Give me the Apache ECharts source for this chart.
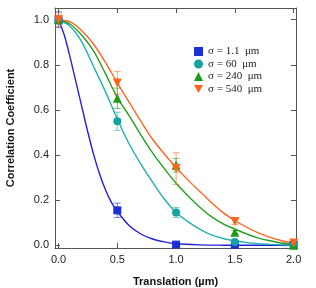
<!DOCTYPE html>
<html><head><meta charset="utf-8">
<script src="https://cdn.jsdelivr.net/npm/echarts@6/dist/echarts.min.js"></script>
<style>html,body{margin:0;padding:0;background:#fff}#c{width:316px;height:288px}</style>
</head><body><div id="c"></div>
<script>
// Measured points
var pointX = [0, 0.5, 1.0, 1.5, 2.0];
var pts11 = [1.0, 0.155, 0.003, 0.002, 0.002];
var err11 = [0.035, 0.032, 0.004, 0.004, 0.004];
var pts60 = [1.0, 0.55, 0.145, 0.015, 0.0];
var err60 = [0.02, 0.04, 0.022, 0.008, 0.004];
var pts240 = [1.0, 0.652, 0.355, 0.058, 0.0];
var err240 = [0.015, 0.045, 0.03, 0.008, 0.004];
var pts540 = [1.0, 0.72, 0.34, 0.105, 0.01];
var err540 = [0.03, 0.05, 0.07, 0.012, 0.005];

// Fit curves
var fitX11 = [0, 0.05, 0.1, 0.15, 0.2, 0.25, 0.3, 0.35, 0.4, 0.45, 0.5, 0.6, 0.7, 0.8, 0.9, 1.0, 1.2, 1.4, 1.6, 1.8, 2.0];
var fit11 = [1.0, 0.93, 0.83, 0.72, 0.61, 0.50, 0.40, 0.315, 0.245, 0.19, 0.15, 0.088, 0.05, 0.028, 0.015, 0.007, 0.002, 0.0005, 0, 0, 0];
var fitX = [0, 0.1, 0.2, 0.3, 0.4, 0.5, 0.6, 0.7, 0.8, 0.9, 1.0, 1.1, 1.2, 1.3, 1.4, 1.5, 1.6, 1.7, 1.8, 1.9, 2.0];
var fit60 = [1.0, 0.97, 0.9, 0.79, 0.68, 0.56, 0.45, 0.36, 0.28, 0.205, 0.145, 0.105, 0.072, 0.046, 0.03, 0.02, 0.012, 0.007, 0.004, 0.002, 0.001];
var fit240 = [1.0, 0.98, 0.93, 0.86, 0.76, 0.655, 0.575, 0.49, 0.41, 0.34, 0.275, 0.22, 0.17, 0.127, 0.095, 0.072, 0.05, 0.032, 0.02, 0.01, 0.004];
var fit540 = [1.0, 0.99, 0.95, 0.89, 0.81, 0.72, 0.635, 0.55, 0.47, 0.405, 0.345, 0.29, 0.24, 0.19, 0.145, 0.11, 0.08, 0.055, 0.035, 0.02, 0.01];

var names = ['σ = 1.1  μm', 'σ = 60  μm', 'σ = 240  μm', 'σ = 540  μm'];
var xTicks = [0, 0.5, 1.0, 1.5, 2.0];
var yTicks = [0, 0.2, 0.4, 0.6, 0.8, 1.0];

var colors = ['#1a2fd6', '#17a2a2', '#1c9a1c', '#ff661a'];
var lineColors = ['#2222dd', '#22b0b0', '#22a022', '#ff6622'];
var symbols = ['rect', 'circle', 'triangle', 'path://M0,0L10,0L5,9Z'];
var sizes = [8, 8, 9, 9];

function pairs(xs, ys) { return xs.map(function (x, i) { return [x, ys[i]]; }); }
function errData(ys, es) { return pointX.map(function (x, i) { return [x, ys[i] - es[i], ys[i] + es[i]]; }); }

var pts = [pts11, pts60, pts240, pts540];
var errs = [err11, err60, err240, err540];
var fits = [pairs(fitX11, fit11), pairs(fitX, fit60), pairs(fitX, fit240), pairs(fitX, fit540)];

var series = [];
for (var k = 0; k < 4; k++) {
  series.push({
    type: 'line', data: fits[k], smooth: 0.3, showSymbol: false, silent: true,
    lineStyle: { color: lineColors[k], width: 1.4 }, z: 2
  });
}
for (var k = 0; k < 4; k++) {
  (function (k) {
    series.push({
      type: 'custom', data: errData(pts[k], errs[k]), z: 3, silent: true,
      renderItem: function (params, api) {
        var x = api.value(0);
        var lo = api.coord([x, api.value(1)]);
        var hi = api.coord([x, api.value(2)]);
        var w = 3.5;
        var st = { stroke: colors[k], lineWidth: 1, opacity: 0.6 };
        return { type: 'group', children: [
          { type: 'line', shape: { x1: lo[0], y1: lo[1], x2: hi[0], y2: hi[1] }, style: st },
          { type: 'line', shape: { x1: lo[0] - w, y1: lo[1], x2: lo[0] + w, y2: lo[1] }, style: st },
          { type: 'line', shape: { x1: hi[0] - w, y1: hi[1], x2: hi[0] + w, y2: hi[1] }, style: st }
        ] };
      }
    });
  })(k);
}
for (var k = 0; k < 4; k++) {
  series.push({
    name: names[k], type: 'scatter', data: pairs(pointX, pts[k]), symbol: symbols[k],
    symbolSize: sizes[k], itemStyle: { color: colors[k], opacity: 1 }, z: 4
  });
}

var axisLineStyle = { color: '#555', width: 1 };
var chart = echarts.init(document.getElementById('c'), null, { renderer: 'canvas' });
chart.setOption({
  animation: false,
  grid: { left: 55, right: 20, top: 8, bottom: 40, containLabel: false, outerBoundsMode: 'none' },
  legend: {
    orient: 'vertical', left: 189, top: 41, itemWidth: 9, itemHeight: 9, itemGap: 1.5,
    data: names, selectedMode: false,
    textStyle: { fontFamily: 'Liberation Serif', fontSize: 11, color: '#222' }
  },
  xAxis: [{
    type: 'value', min: -0.03, max: 2.02, position: 'bottom',
    name: 'Translation (µm)', nameLocation: 'middle', nameGap: 28,
    nameTextStyle: { fontFamily: 'Liberation Sans', fontWeight: 'bold', fontSize: 11, color: '#111' },
    axisLine: { onZero: false, lineStyle: axisLineStyle },
    axisTick: { inside: true, length: 5, customValues: xTicks, lineStyle: axisLineStyle },
    axisLabel: { customValues: xTicks, margin: 6, fontFamily: 'Liberation Sans', fontSize: 11, color: '#222',
      formatter: function (v) { return v.toFixed(1); } },
    splitLine: { show: false }
  }, {
    type: 'value', min: -0.03, max: 2.02, position: 'top',
    axisLine: { onZero: false, lineStyle: axisLineStyle },
    axisTick: { inside: true, length: 5, customValues: xTicks, lineStyle: axisLineStyle },
    axisLabel: { show: false }, splitLine: { show: false }
  }],
  yAxis: [{
    type: 'value', min: -0.012, max: 1.052, position: 'left',
    name: 'Correlation Coefficient', nameLocation: 'middle', nameGap: 39,
    nameTextStyle: { fontFamily: 'Liberation Sans', fontWeight: 'bold', fontSize: 11, color: '#111' },
    axisLine: { onZero: false, lineStyle: axisLineStyle },
    axisTick: { inside: true, length: 5, customValues: yTicks, lineStyle: axisLineStyle },
    axisLabel: { customValues: yTicks, margin: 6, fontFamily: 'Liberation Sans', fontSize: 11, color: '#222',
      formatter: function (v) { return v.toFixed(1); } },
    splitLine: { show: false }
  }, {
    type: 'value', min: -0.012, max: 1.052, position: 'right',
    axisLine: { onZero: false, lineStyle: axisLineStyle },
    axisTick: { inside: true, length: 5, customValues: yTicks, lineStyle: axisLineStyle },
    axisLabel: { show: false }, splitLine: { show: false }
  }],
  series: series
});
</script></body></html>
